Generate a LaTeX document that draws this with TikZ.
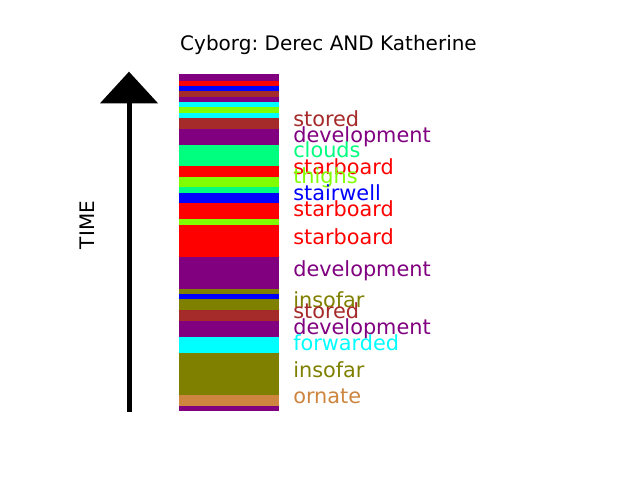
\documentclass[tikz,border=0pt]{standalone}
\usepackage{fontspec}
\setmainfont{DejaVu Sans}
\usetikzlibrary{positioning}
\frenchspacing

\definecolor{mpurple}{HTML}{800080}
\definecolor{mred}{HTML}{FF0000}
\definecolor{mblue}{HTML}{0000FF}
\definecolor{mbrown}{HTML}{A52A2A}
\definecolor{mcyan}{HTML}{00FFFF}
\definecolor{mchart}{HTML}{7FFF00}
\definecolor{mspring}{HTML}{00FF7F}
\definecolor{molive}{HTML}{808000}
\definecolor{mperu}{HTML}{CD853F}

\begin{document}
\begin{tikzpicture}[x=0.72pt, y=-0.72pt,
  lbl/.style={anchor=base west, inner sep=0pt, font=\fontsize{15}{18}\selectfont},
  ttl/.style={anchor=base, inner sep=0pt, font=\fontsize{14.4}{17}\selectfont}]
\useasboundingbox[fill=white] (0,0) rectangle (640,480);
% title
\node[ttl] (title) at (328.5,50) {Cyborg: Derec AND Katherine};
% time arrow
\coordinate (tail) at (129,412);
\coordinate (headbase) at (129,103.3);
\coordinate (tip) at (129,71.7);
\draw[line width=3.6pt] (tail) -- (headbase);
\fill ([xshift=-29*0.72pt]headbase) -- (tip) -- ([xshift=29*0.72pt]headbase) -- cycle;
\node[ttl, rotate=90] (time) at (94,225) {TIME};
% stripes
\foreach \top/\bot/\col in {74/81/mpurple, 81/86/mred, 86/91/mblue, 91/97/mbrown,
    97/102/mpurple, 102/107/mcyan, 107/113/mchart, 113/118/mcyan, 118/129/mbrown,
    129/145/mpurple, 145/166/mspring, 166/177/mred, 177/187/mchart, 187/193/mspring,
    193/203/mblue, 203/219/mred, 219/225/mchart, 225/257/mred, 257/289/mpurple,
    289/294/molive, 294/299/mblue, 299/310/molive, 310/321/mbrown, 321/337/mpurple,
    337/353/mcyan, 353/395/molive, 395/406/mperu, 406/411/mpurple}
  \fill[\col] (179,\top) rectangle (279,\bot);
% labels
\foreach \y/\col/\txt [count=\i] in {126.7/mbrown/stored, 142.7/mpurple/development,
    157.7/mspring/clouds, 174.3/mred/starboard, 183.7/mchart/thighs,
    200.3/mblue/stairwell, 216/mred/starboard, 244.3/mred/starboard,
    276/mpurple/development, 307/molive/insofar, 318.7/mbrown/stored,
    334.3/mpurple/development, 350.3/mcyan/forwarded, 377/molive/insofar,
    403.7/mperu/ornate}
  \node[lbl, text=\col] (l\i) at (293,\y) {\txt};
\end{tikzpicture}
\end{document}
